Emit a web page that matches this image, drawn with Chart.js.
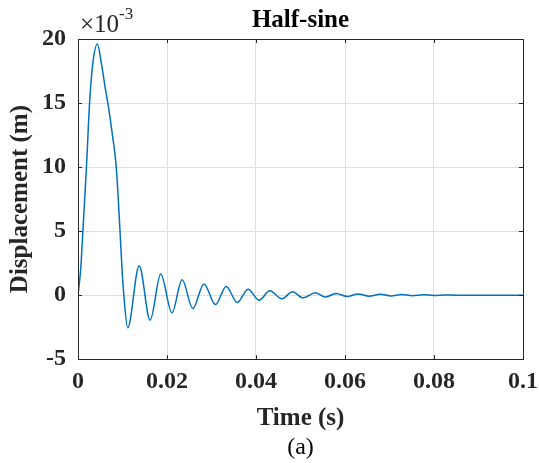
<!DOCTYPE html>
<html>
<head>
<meta charset="utf-8">
<script src="https://cdn.jsdelivr.net/npm/chart.js@4"></script>
<style>
  body { margin: 0; background: #fff; }
  #wrap { width: 539px; height: 463px; position: relative; }
</style>
</head>
<body>
<div id="wrap"><canvas id="halfSineChart"></canvas></div>
<script>
// time axis (s) and displacement (x 1e-3 m)
const timeS = [0, 0.0006, 0.0011, 0.0019, 0.0026, 0.0033, 0.00435, 0.0053, 0.0062, 0.0068, 0.0077, 0.0086,
    0.00944, 0.0099, 0.0103, 0.01117, 0.01375, 0.0162, 0.0186, 0.0211, 0.0234, 0.0258, 0.0283, 0.0309,
    0.0333, 0.0358, 0.0382, 0.0407, 0.0431, 0.0458, 0.0482, 0.0506, 0.0533, 0.0556, 0.0580, 0.0605,
    0.0629, 0.0654, 0.0679, 0.0703, 0.0727, 0.0752, 0.0775, 0.0800, 0.0825, 0.0850, 0.1];
const displacement = [0, 2, 5, 10, 15, 18, 19.6, 18, 16, 14.8, 12.6, 10,
    5, 2, 0, -2.55, 2.3, -1.95, 1.65, -1.38, 1.2, -1.04, 0.88, -0.73,
    0.68, -0.57, 0.47, -0.39, 0.34, -0.29, 0.26, -0.21, 0.18, -0.15, 0.13, -0.11,
    0.10, -0.08, 0.07, -0.06, 0.05, -0.04, 0.03, -0.02, 0.015, 0, 0];

const xTicks = [0, 0.02, 0.04, 0.06, 0.08, 0.1];
const yTicks = [-5, 0, 5, 10, 15, 20];

const serif = '"Liberation Serif", "Times New Roman", serif';
const axisColor = '#262626';
const gridColor = '#dedede';

// box, inward ticks and the x10^-3 exponent, drawn the way MATLAB does
const matlabAxes = {
    id: 'matlabAxes',
    afterDraw(chart) {
        const ctx = chart.ctx;
        const a = chart.chartArea;
        const tl = 4;
        ctx.save();
        ctx.strokeStyle = axisColor;
        ctx.lineWidth = 1;
        ctx.beginPath();
        chart.scales.x.ticks.forEach(t => {
            const px = Math.round(chart.scales.x.getPixelForValue(t.value)) + 0.5;
            ctx.moveTo(px, a.bottom); ctx.lineTo(px, a.bottom - tl);
            ctx.moveTo(px, a.top); ctx.lineTo(px, a.top + tl);
        });
        chart.scales.y.ticks.forEach(t => {
            const py = Math.round(chart.scales.y.getPixelForValue(t.value)) + 0.5;
            ctx.moveTo(a.left, py); ctx.lineTo(a.left + tl, py);
            ctx.moveTo(a.right, py); ctx.lineTo(a.right - tl, py);
        });
        ctx.stroke();
        ctx.strokeRect(Math.round(a.left) + 0.5, Math.round(a.top) + 0.5,
            Math.round(a.right - a.left), Math.round(a.bottom - a.top));

        ctx.fillStyle = axisColor;
        ctx.textBaseline = 'alphabetic';
        ctx.font = '25px ' + serif;
        ctx.fillText('\u00d710', a.left + 2, a.top - 7);
        const w = ctx.measureText('\u00d710').width;
        ctx.font = '17px ' + serif;
        ctx.fillText('-3', a.left + 2 + w, a.top - 20);
        ctx.restore();
    }
};

const tickFont = { family: serif, size: 24, weight: 'bold' };
const titleFont = { family: serif, size: 25, weight: 'bold' };

new Chart(document.getElementById('halfSineChart'), {
    type: 'line',
    data: {
        datasets: [{
            data: timeS.map((t, i) => ({ x: t, y: displacement[i] })),
            borderColor: '#0072BD',
            borderWidth: 1.5,
            pointRadius: 0,
            cubicInterpolationMode: 'monotone',
            fill: false
        }]
    },
    options: {
        responsive: true,
        maintainAspectRatio: false,
        animation: false,
        layout: { padding: { left: 0, right: 16, top: 0, bottom: 0 } },
        plugins: {
            legend: { display: false },
            tooltip: { enabled: false },
            title: {
                display: true,
                text: 'Half-sine',
                color: '#000',
                font: titleFont,
                fullSize: false,
                padding: { top: 6, bottom: 3 }
            },
            subtitle: {
                display: true,
                position: 'bottom',
                text: '(a)',
                color: '#000',
                font: { family: serif, size: 24, weight: 'normal' },
                fullSize: false,
                padding: { top: 0, bottom: 1 }
            }
        },
        scales: {
            x: {
                type: 'linear',
                min: 0,
                max: 0.1,
                afterBuildTicks: s => { s.ticks = xTicks.map(v => ({ value: v })); },
                afterFit: s => { s.height = 74; s.paddingLeft = 0; s.paddingRight = 0; },
                grid: { color: gridColor, drawTicks: false },
                border: { display: false },
                ticks: { font: tickFont, color: axisColor, padding: 8, maxRotation: 0, autoSkip: false,
                    callback: v => String(v) },
                title: { display: true, text: 'Time (s)', color: axisColor, font: titleFont,
                    padding: { top: 2, bottom: 0 } }
            },
            y: {
                min: -5,
                max: 20,
                afterBuildTicks: s => { s.ticks = yTicks.map(v => ({ value: v })); },
                afterFit: s => { s.width = 78; s.paddingTop = 0; s.paddingBottom = 0; },
                grid: { color: gridColor, drawTicks: false },
                border: { display: false },
                ticks: { font: tickFont, color: axisColor, padding: 12, autoSkip: false,
                    callback: v => String(v) },
                title: { display: true, text: 'Displacement (m)', color: axisColor, font: titleFont,
                    padding: { top: 6, bottom: 0 } }
            }
        }
    },
    plugins: [matlabAxes]
});
</script>
</body>
</html>
